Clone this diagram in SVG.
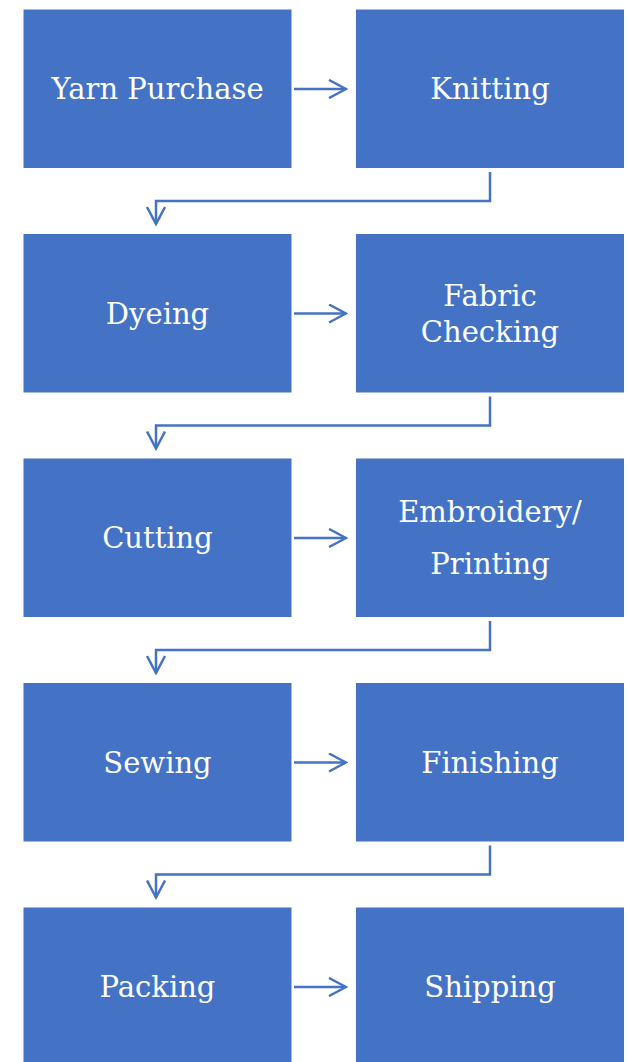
<svg xmlns="http://www.w3.org/2000/svg" width="628" height="1062" viewBox="0 0 628 1062">
<style>
.box{fill:#4472C4}
.lbl{fill:#FFFFFF;font-family:"DejaVu Serif","Liberation Serif",serif;font-size:29px;text-anchor:middle}
.con{fill:none;stroke:#4472C4;stroke-width:2.5}
</style>
<defs>
<marker id="ah" viewBox="0 0 20 20" refX="18" refY="10" markerWidth="20" markerHeight="20" markerUnits="userSpaceOnUse" orient="auto">
<path d="M1,1 L18,10 L1,19" fill="none" stroke="#4472C4" stroke-width="2.5"/>
</marker>
</defs>
<rect width="628" height="1062" fill="#FFFFFF"/>
<g id="n1"><rect class="box" x="23.5" y="9.5" width="268" height="158.5"/><text class="lbl" x="157.5" y="99">Yarn Purchase</text></g>
<g id="n2"><rect class="box" x="356" y="9.5" width="268" height="158.5"/><text class="lbl" x="490" y="99">Knitting</text></g>
<g id="n3"><rect class="box" x="23.5" y="234" width="268" height="158.5"/><text class="lbl" x="157.5" y="323.5">Dyeing</text></g>
<g id="n4"><rect class="box" x="356" y="234" width="268" height="158.5"/><text class="lbl" x="490" y="305.5">Fabric</text><text class="lbl" x="490" y="341.5">Checking</text></g>
<g id="n5"><rect class="box" x="23.5" y="458.5" width="268" height="158.5"/><text class="lbl" x="157.5" y="548">Cutting</text></g>
<g id="n6"><rect class="box" x="356" y="458.5" width="268" height="158.5"/><text class="lbl" x="490" y="522">Embroidery/</text><text class="lbl" x="490" y="574">Printing</text></g>
<g id="n7"><rect class="box" x="23.5" y="683" width="268" height="158.5"/><text class="lbl" x="157.5" y="772.5">Sewing</text></g>
<g id="n8"><rect class="box" x="356" y="683" width="268" height="158.5"/><text class="lbl" x="490" y="772.5">Finishing</text></g>
<g id="n9"><rect class="box" x="23.5" y="907.5" width="268" height="158.5"/><text class="lbl" x="157.5" y="997">Packing</text></g>
<g id="n10"><rect class="box" x="356" y="907.5" width="268" height="158.5"/><text class="lbl" x="490" y="997">Shipping</text></g>
<g id="connectors">
<path class="con" marker-end="url(#ah)" d="M294,89 H346"/>
<path class="con" marker-end="url(#ah)" d="M294,313.5 H346"/>
<path class="con" marker-end="url(#ah)" d="M294,538 H346"/>
<path class="con" marker-end="url(#ah)" d="M294,762.5 H346"/>
<path class="con" marker-end="url(#ah)" d="M294,987 H346"/>
<path class="con" marker-end="url(#ah)" d="M490,172 V201 H156 V224"/>
<path class="con" marker-end="url(#ah)" d="M490,396.5 V425.5 H156 V448.5"/>
<path class="con" marker-end="url(#ah)" d="M490,621 V650 H156 V673"/>
<path class="con" marker-end="url(#ah)" d="M490,845.5 V874.5 H156 V897.5"/>
</g>
</svg>
